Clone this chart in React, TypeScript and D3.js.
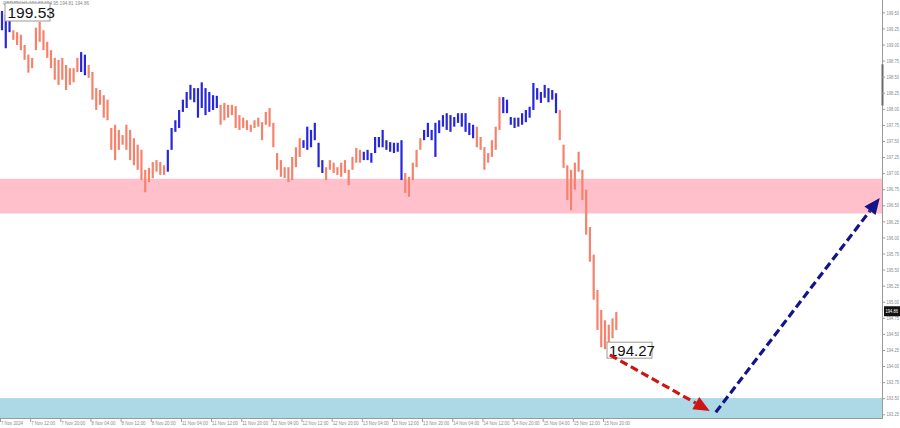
import React from "react";
import * as d3 from "d3";

const W = 900;
const H = 428;

// Hourly bars (high / low), GBPJPY H1
const highs = [
  199.53, 199.47, 199.51, 199.23, 199.2, 199.16, 199.0, 198.85, 198.8, 199.27,
  199.36, 199.23, 199.05, 198.92, 198.8, 198.77, 198.8, 198.69, 198.64, 198.64,
  198.8, 198.89, 198.85, 198.69, 198.58, 198.33, 198.3, 198.22, 198.15, 197.71,
  197.76, 197.68, 197.6, 197.76, 197.68, 197.55, 197.45, 197.37, 197.06, 197.09,
  197.18, 197.21, 197.18, 197.13, 197.37, 197.71, 197.83, 197.99, 198.15, 198.27,
  198.38, 198.33, 198.33, 198.42, 198.33, 198.27, 198.22, 198.21, 198.07, 198.1,
  198.07, 198.07, 198.05, 197.91, 197.87, 197.83, 197.76, 197.83, 197.87, 197.8,
  197.96, 198.02, 197.79, 197.32, 197.21, 197.1, 197.1, 197.26, 197.41, 197.55,
  197.52, 197.73, 197.68, 197.79, 197.48, 197.21, 197.1, 197.21, 197.17, 197.1,
  197.17, 197.21, 197.06, 197.26, 197.4, 197.37, 197.34, 197.37, 197.32, 197.57,
  197.57, 197.68, 197.52, 197.49, 197.48, 197.48, 197.52, 197.01, 196.95, 197.17,
  197.37, 197.55, 197.68, 197.79, 197.68, 197.79, 197.83, 197.91, 197.94, 197.91,
  197.88, 197.94, 197.94, 197.94, 197.79, 197.76, 197.73, 197.57, 197.41, 197.32,
  197.52, 197.73, 198.19, 198.19, 198.15, 197.88, 197.87, 197.87, 197.94, 197.99,
  198.04, 198.41, 198.33, 198.27, 198.38, 198.33, 198.3, 198.25, 197.99, 197.45,
  197.13, 197.06, 197.17, 197.34, 197.06, 196.75, 196.17, 195.74, 195.19, 194.88,
  194.72, 194.65, 194.75, 194.85,
];
const lows = [
  199.23, 198.95, 199.2, 199.08, 199.0, 198.92, 198.77, 198.57, 198.64, 198.92,
  199.05, 198.92, 198.8, 198.64, 198.46, 198.38, 198.46, 198.3, 198.38, 198.42,
  198.58, 198.58, 198.53, 198.49, 198.15, 197.99, 198.07, 197.87, 197.83, 197.37,
  197.21, 197.37, 197.45, 197.37, 197.21, 197.13, 197.06, 196.9, 196.71, 196.87,
  196.93, 197.03, 196.98, 196.98, 197.03, 197.37, 197.65, 197.71, 197.96, 198.02,
  198.15, 198.11, 197.87, 198.02, 197.91, 197.96, 197.99, 198.02, 197.76, 197.83,
  197.87, 197.91, 197.71, 197.68, 197.71, 197.68, 197.65, 197.71, 197.73, 197.52,
  197.76, 197.73, 197.41, 197.06, 196.95, 196.93, 196.87, 196.9, 197.1, 197.26,
  197.4, 197.37, 197.41, 197.52, 197.1, 197.01, 196.9, 197.06, 197.01, 196.98,
  196.95, 197.01, 196.82, 197.06, 197.17, 197.17, 197.21, 197.21, 197.17, 197.32,
  197.41, 197.41, 197.37, 197.34, 197.32, 197.34, 196.9, 196.7, 196.64, 196.9,
  197.1, 197.37, 197.52, 197.57, 197.52, 197.26, 197.63, 197.73, 197.68, 197.65,
  197.73, 197.79, 197.73, 197.65, 197.6, 197.55, 197.41, 197.37, 197.06, 197.17,
  197.26, 197.37, 197.68, 197.94, 197.94, 197.76, 197.71, 197.73, 197.76, 197.8,
  197.87, 197.99, 198.15, 198.1, 198.18, 198.11, 198.15, 197.94, 197.52, 197.09,
  196.59, 196.43, 196.75, 197.03, 196.59, 196.05, 195.63, 195.04, 194.57, 194.3,
  194.27, 194.38, 194.44, 194.57,
];
// wave segments drawn in blue (bar index ranges, inclusive)
const blueSegments: [number, number][] = [
  [0, 2], [21, 22], [44, 57], [80, 85], [96, 106], [112, 125], [133, 147],
];

const timeLabels = [
  "7 Nov 2024", "7 Nov 12:00", "7 Nov 20:00", "8 Nov 04:00", "8 Nov 12:00",
  "8 Nov 20:00", "11 Nov 04:00", "11 Nov 12:00", "11 Nov 20:00", "12 Nov 04:00",
  "12 Nov 12:00", "12 Nov 20:00", "13 Nov 04:00", "13 Nov 12:00", "13 Nov 20:00",
  "14 Nov 04:00", "14 Nov 12:00", "14 Nov 20:00", "15 Nov 04:00", "15 Nov 12:00",
  "15 Nov 20:00",
];
const priceTicks = [
  199.5, 199.25, 199.0, 198.75, 198.5, 198.25, 198.0, 197.75, 197.5, 197.25,
  197.0, 196.75, 196.5, 196.25, 196.0, 195.75, 195.5, 195.25, 195.0, 194.75,
  194.5, 194.25, 194.0, 193.75, 193.5, 193.25,
];

// zones
const resistanceZone = [196.38, 196.92];
const supportZone = [193.2, 193.51];

// forecast arrows: [barIndex, price]
const arrowDown: [number, number][] = [[161.3, 194.18], [187.8, 193.31]];
const arrowUp: [number, number][] = [[189.4, 193.29], [232.9, 196.62]];

const maxLabel = { bar: 0, price: 199.53 };
const minLabel = { bar: 160, price: 194.27 };
const lastPrice = 194.86;
const header = "GBPJPY,H1  194.83 194.95 194.81 194.86";

const SALMON = "#f7826c";
const BLUE = "#2626dc";

function Arrow({ pts, color, x, y }: any) {
  const [x1, y1] = [x(pts[0][0]), y(pts[0][1])];
  const [x2, y2] = [x(pts[1][0]), y(pts[1][1])];
  const ang = Math.atan2(y2 - y1, x2 - x1);
  const L = 16, Wd = 7;
  const bx = x2 - L * Math.cos(ang), by = y2 - L * Math.sin(ang);
  const px = -Math.sin(ang) * Wd, py = Math.cos(ang) * Wd;
  return (
    <g>
      <line x1={x1} y1={y1} x2={bx} y2={by} stroke={color} strokeWidth={3.2} strokeDasharray="8,4" />
      <path d={`M${x2},${y2}L${bx + px},${by + py}L${bx - px},${by - py}Z`} fill={color} />
    </g>
  );
}

export default function App() {
  const plotRight = 882;
  const plotBottom = 418;
  const x = d3.scaleLinear().domain([0, 8]).range([2, 32.15]);
  const y = d3.scaleLinear().domain([193.2, 199.7]).range([plotBottom, 0]);
  const isBlue = (i: number) => blueSegments.some(([a, b]) => i >= a && i <= b);

  return (
    <svg width={W} height={H} style={{ position: "absolute", left: 0, top: 0, background: "#fff" }}
      fontFamily="'Liberation Sans', Arial, sans-serif">
      <rect x={0} y={0} width={W} height={H} fill="#fff" />
      {/* zones */}
      <rect x={0} y={y(resistanceZone[1])} width={plotRight} height={y(resistanceZone[0]) - y(resistanceZone[1])} fill="#ffc0cb" />
      <rect x={0} y={y(supportZone[1])} width={plotRight} height={y(supportZone[0]) - y(supportZone[1])} fill="#add8e6" />

      {/* header (partly hidden behind the max label, as in the source) */}
      <text x={3} y={5} fontSize={4.6} fill="#8a8a8a">{header}</text>

      {/* bars */}
      {highs.map((h, i) => (
        <line key={i} x1={x(i)} x2={x(i)} y1={y(h)} y2={y(lows[i])}
          stroke={isBlue(i) ? BLUE : SALMON} strokeWidth={2.2} />
      ))}

      {/* axes */}
      <line x1={plotRight + 0.5} x2={plotRight + 0.5} y1={0} y2={plotBottom + 1} stroke="#9a9a9a" strokeWidth={1} />
      <line x1={0} x2={plotRight + 0.5} y1={plotBottom + 0.5} y2={plotBottom + 0.5} stroke="#9a9a9a" strokeWidth={1} />
      <rect x={plotRight - 0.5} y={y(198.7)} width={2} height={y(198.06) - y(198.7)} fill="#6a6a6a" />
      {priceTicks.map((p) => (
        <g key={p}>
          <line x1={plotRight} x2={plotRight + 3} y1={y(p)} y2={y(p)} stroke="#9a9a9a" />
          <text x={plotRight + 4.5} y={y(p) + 1.7} fontSize={4.6} textLength={12.5} lengthAdjust="spacingAndGlyphs" fill="#8a8a8a">{p.toFixed(2)}</text>
        </g>
      ))}
      {timeLabels.map((t, k) => (
        <g key={t}>
          <line x1={x(k * 8) - 1.5} x2={x(k * 8) - 1.5} y1={plotBottom} y2={plotBottom + 4} stroke="#9a9a9a" />
          <text x={x(k * 8) - 1} y={plotBottom + 7} fontSize={4.6} textLength={t.length > 11 ? 26 : t.length > 10 ? 24 : 22} lengthAdjust="spacingAndGlyphs" fill="#8a8a8a">{t}</text>
        </g>
      ))}
      <rect x={plotRight + 2} y={y(lastPrice) - 5} width={16} height={10} fill="#111" />
      <text x={plotRight + 3.5} y={y(lastPrice) + 1.8} fontSize={4.6} textLength={12.5} lengthAdjust="spacingAndGlyphs" fill="#fff">{lastPrice.toFixed(2)}</text>

      {/* price labels */}
      <rect x={x(maxLabel.bar) + 3} y={3} width={45} height={18} fill="#fff" stroke="#9a9a9a" strokeWidth={1} />
      <text x={x(maxLabel.bar) + 5.5} y={18} fontSize={15.5} fill="#111">{maxLabel.price.toFixed(2)}</text>
      <rect x={x(minLabel.bar) + 2} y={y(minLabel.price) - 7} width={45} height={16} fill="#fff" stroke="#9a9a9a" strokeWidth={1} />
      <text x={x(minLabel.bar) + 4} y={y(minLabel.price) + 6.5} fontSize={15} fill="#111">{minLabel.price.toFixed(2)}</text>

      {/* forecast arrows */}
      <Arrow pts={arrowDown} color="#cc1515" x={x} y={y} />
      <Arrow pts={arrowUp} color="#141489" x={x} y={y} />
    </svg>
  );
}
